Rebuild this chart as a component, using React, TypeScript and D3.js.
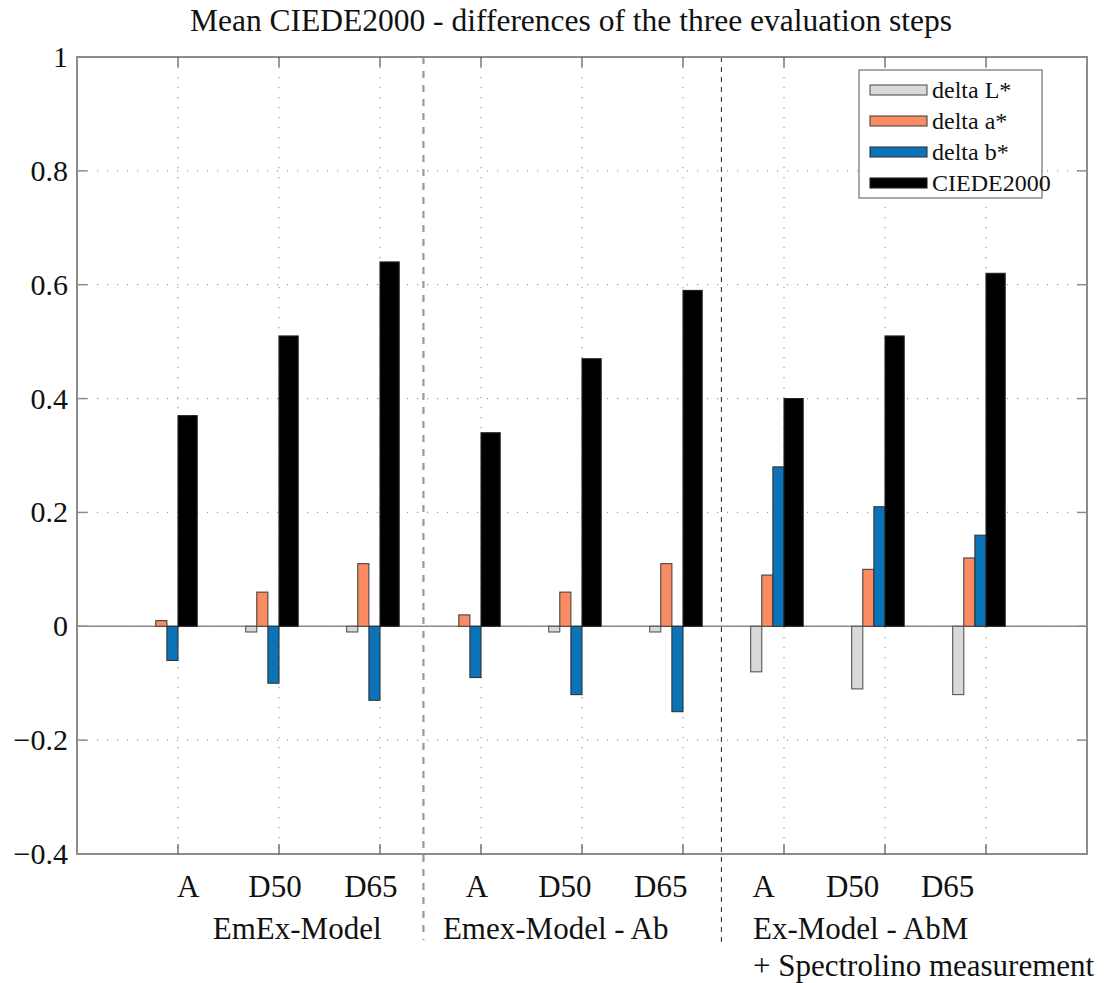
import React from "react";
import * as d3 from "d3";

const categories = ["A", "D50", "D65", "A", "D50", "D65", "A", "D50", "D65"];
const deltaL = [0, -0.01, -0.01, 0, -0.01, -0.01, -0.08, -0.11, -0.12];
const deltaA = [0.01, 0.06, 0.11, 0.02, 0.06, 0.11, 0.09, 0.1, 0.12];
const deltaB = [-0.06, -0.1, -0.13, -0.09, -0.12, -0.15, 0.28, 0.21, 0.16];
const ciede = [0.37, 0.51, 0.64, 0.34, 0.47, 0.59, 0.4, 0.51, 0.62];
const yTicks = [-0.4, -0.2, 0, 0.2, 0.4, 0.6, 0.8, 1];
const groupLabels = [["EmEx-Model"], ["Emex-Model - Ab"], ["Ex-Model - AbM", "+ Spectrolino measurement"]];
const seriesNames = ["delta L*", "delta a*", "delta b*", "CIEDE2000"];
const seriesColors = ["#d9d9d9", "#fb8c62", "#0b73b8", "#000000"];
const title = "Mean CIEDE2000 - differences of the three evaluation steps";

const W = 1105;
const H = 983;
const FONT = "'Liberation Serif', 'Times New Roman', serif";

export default function App() {
  const x = d3.scaleLinear().domain([0, 10]).range([77, 1087]);
  const y = d3.scaleLinear().domain([-0.4, 1]).range([854, 57]);
  const series = [deltaL, deltaA, deltaB, ciede];
  const offsets: [number, number][] = [
    [-0.33, -0.22],
    [-0.22, -0.11],
    [-0.11, 0],
    [0, 0.19],
  ];
  const stroke = ["#555", "#444", "#333", "#222"];
  const catPos = categories.map((_, i) => i + 1);
  const catLabelX = [1.1, 1.96, 2.91, 3.96, 4.83, 5.78, 6.8, 7.68, 8.62];
  const groupLabelX = [2.18, 4.74];
  const fmt = (v: number) => (v === 0 ? "0" : v === 1 ? "1" : (v < 0 ? "\u2212" : "") + Math.abs(v).toString());

  return (
    <svg width={W} height={H} style={{ display: "block", position: "absolute", left: 0, top: 0, background: "#fff" }}>
      <rect x={0} y={0} width={W} height={H} fill="#fff" />
      <text x={571} y={31} textAnchor="middle" fontFamily={FONT} fontSize={31.5} fill="#111">
        {title}
      </text>
      {yTicks.slice(1, -1).map((t) => (
        <line key={"gy" + t} x1={x(0)} x2={x(10)} y1={y(t)} y2={y(t)} stroke="#9a9a9a" strokeWidth={1.2} strokeDasharray="1.2,8.8" />
      ))}
      {catPos.map((p) => (
        <line key={"gx" + p} x1={x(p)} x2={x(p)} y1={y(1)} y2={y(-0.4)} stroke="#9a9a9a" strokeWidth={1.2} strokeDasharray="1.2,8.8" />
      ))}
      <line x1={x(3.43)} x2={x(3.43)} y1={y(1)} y2={940} stroke="#9a9a9a" strokeWidth={2.2} strokeDasharray="7,7" />
      <line x1={x(6.38)} x2={x(6.38)} y1={y(1)} y2={944} stroke="#222" strokeWidth={1} strokeDasharray="5,5" />
      <line x1={x(0)} x2={x(10)} y1={y(0)} y2={y(0)} stroke="#8a8a8a" strokeWidth={1.5} />
      {series.map((vals, s) =>
        vals.map((v, i) => {
          if (v === 0) return null;
          const x0 = x(catPos[i] + offsets[s][0]);
          const x1 = x(catPos[i] + offsets[s][1]);
          const yTop = y(Math.max(0, v));
          const yBot = y(Math.min(0, v));
          return (
            <rect
              key={s + "-" + i}
              x={x0}
              y={yTop}
              width={x1 - x0}
              height={yBot - yTop}
              fill={seriesColors[s]}
              stroke={stroke[s]}
              strokeWidth={1.1}
            />
          );
        })
      )}
      <rect x={x(0)} y={y(1)} width={x(10) - x(0)} height={y(-0.4) - y(1)} fill="none" stroke="#8c8c8c" strokeWidth={2} />
      {yTicks.map((t) => (
        <g key={"yt" + t}>
          <line x1={x(0)} x2={x(0) + 10} y1={y(t)} y2={y(t)} stroke="#8c8c8c" strokeWidth={1.5} />
          <line x1={x(10)} x2={x(10) - 10} y1={y(t)} y2={y(t)} stroke="#8c8c8c" strokeWidth={1.5} />
          <text x={x(0) - 9} y={y(t) + 10} textAnchor="end" fontFamily={FONT} fontSize={30} fill="#111">
            {fmt(t)}
          </text>
        </g>
      ))}
      {catPos.map((p) => (
        <g key={"xt" + p}>
          <line x1={x(p)} x2={x(p)} y1={y(-0.4)} y2={y(-0.4) - 10} stroke="#555" strokeWidth={1.2} />
          <line x1={x(p)} x2={x(p)} y1={y(1)} y2={y(1) + 10} stroke="#555" strokeWidth={1.2} />
        </g>
      ))}
      {categories.map((c, i) => (
        <text key={"cl" + i} x={x(catLabelX[i])} y={897} textAnchor="middle" fontFamily={FONT} fontSize={31} fill="#111">
          {c}
        </text>
      ))}
      <text x={x(groupLabelX[0])} y={939} textAnchor="middle" fontFamily={FONT} fontSize={31} fill="#111">
        {groupLabels[0][0]}
      </text>
      <text x={x(groupLabelX[1])} y={939} textAnchor="middle" fontFamily={FONT} fontSize={31} fill="#111">
        {groupLabels[1][0]}
      </text>
      <text x={753} y={939} textAnchor="start" fontFamily={FONT} fontSize={31} fill="#111">
        {groupLabels[2][0]}
      </text>
      <text x={753} y={976} textAnchor="start" fontFamily={FONT} fontSize={31} fill="#111">
        {groupLabels[2][1]}
      </text>
      <g>
        <rect x={859} y={70} width={183} height={128} fill="#fff" stroke="#8c8c8c" strokeWidth={1.5} />
        {seriesNames.map((n, i) => (
          <g key={"lg" + i}>
            <rect x={870} y={85 + i * 31} width={57} height={10} fill={seriesColors[i]} stroke={stroke[i]} strokeWidth={1.1} />
            <text x={932} y={98 + i * 31} fontFamily={FONT} fontSize={24} fill="#111">
              {n}
            </text>
          </g>
        ))}
      </g>
    </svg>
  );
}
